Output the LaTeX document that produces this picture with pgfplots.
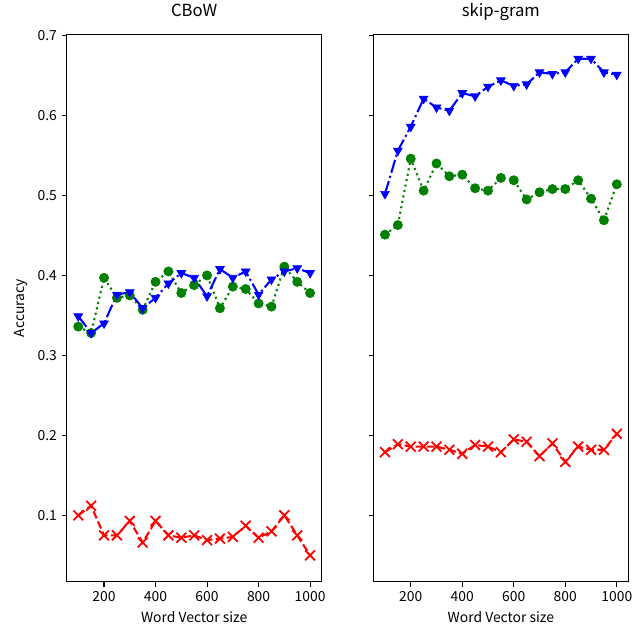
\documentclass[border=0pt]{standalone}
\usepackage{fontspec}
\setmainfont{Noto Sans CJK SC}
\usepackage{pgfplots}
\pgfplotsset{compat=1.18}
\definecolor{mplgreen}{RGB}{0,128,0}

\pgfplotsset{
  acc/.style={
    scale only axis, width=183.6pt, height=393.8pt,
    xmin=55, xmax=1045, ymin=0.017, ymax=0.701,
    xtick={200,400,600,800,1000},
    ytick={0.1,0.2,0.3,0.4,0.5,0.6,0.7},
    tick pos=left, tick align=outside, major tick length=3.5pt,
    axis line style={line width=0.8pt},
    every tick/.append style={black, line width=0.8pt},
    tick label style={font=\fontsize{10}{12}\selectfont},
    label style={font=\fontsize{10}{12}\selectfont},
    title style={font=\fontsize{12}{14}\selectfont, anchor=base, at={(0.5,1)}, yshift=6.8pt},
    xlabel={Word Vector size},
    /pgf/number format/assume math mode=true,
    xticklabel style={/pgf/number format/1000 sep={}},
    yticklabel style={/pgf/number format/.cd, fixed, precision=1, fixed zerofill},
    scaled ticks=false,
  },
  redline/.style={red, line width=1.5pt, dash pattern=on 5.55pt off 2.4pt,
    mark=x, mark size=5pt, mark options={solid, line width=1.3pt}},
  greenline/.style={mplgreen, line width=1.5pt, dash pattern=on 1.5pt off 2.475pt,
    mark=*, mark size=3.3pt, mark options={solid, line width=0.5pt}},
  blueline/.style={blue, line width=1.5pt, dash pattern=on 9.6pt off 2.4pt on 1.5pt off 2.4pt,
    mark=triangle*, mark size=3.6pt, mark options={solid, rotate=180, line width=0.5pt}},
}

\begin{document}
\begin{tikzpicture}
\path[use as bounding box] (-48pt,-32.6pt) rectangle (407.7pt,418.8pt);

\begin{axis}[acc, title={CBoW}, ylabel={Accuracy}]
\addplot[redline] coordinates {
 (100,0.100) (150,0.112) (200,0.075) (250,0.075) (300,0.093) (350,0.066)
 (400,0.093) (450,0.075) (500,0.072) (550,0.075) (600,0.069) (650,0.071)
 (700,0.073) (750,0.087) (800,0.072) (850,0.080) (900,0.100) (950,0.075)
 (1000,0.050)};
\addplot[greenline] coordinates {
 (100,0.336) (150,0.328) (200,0.397) (250,0.372) (300,0.375) (350,0.357)
 (400,0.392) (450,0.405) (500,0.378) (550,0.388) (600,0.400) (650,0.359)
 (700,0.386) (750,0.383) (800,0.365) (850,0.361) (900,0.411) (950,0.392)
 (1000,0.378)};
\addplot[blueline] coordinates {
 (100,0.349) (150,0.328) (200,0.340) (250,0.376) (300,0.379) (350,0.359)
 (400,0.372) (450,0.390) (500,0.403) (550,0.397) (600,0.374) (650,0.408)
 (700,0.397) (750,0.405) (800,0.376) (850,0.395) (900,0.405) (950,0.409)
 (1000,0.403)};
\end{axis}

\begin{axis}[acc, at={(220.8pt,0pt)}, title={skip-gram}, yticklabels={}]
\addplot[redline] coordinates {
 (100,0.179) (150,0.189) (200,0.186) (250,0.186) (300,0.186) (350,0.182)
 (400,0.177) (450,0.188) (500,0.186) (550,0.179) (600,0.195) (650,0.192)
 (700,0.174) (750,0.190) (800,0.167) (850,0.186) (900,0.182) (950,0.182)
 (1000,0.202)};
\addplot[greenline] coordinates {
 (100,0.451) (150,0.463) (200,0.546) (250,0.506) (300,0.540) (350,0.524)
 (400,0.526) (450,0.509) (500,0.506) (550,0.522) (600,0.519) (650,0.495)
 (700,0.504) (750,0.508) (800,0.508) (850,0.519) (900,0.496) (950,0.469)
 (1000,0.514)};
\addplot[blueline] coordinates {
 (100,0.502) (150,0.556) (200,0.586) (250,0.621) (300,0.610) (350,0.606)
 (400,0.628) (450,0.624) (500,0.636) (550,0.644) (600,0.637) (650,0.639)
 (700,0.654) (750,0.652) (800,0.654) (850,0.671) (900,0.671) (950,0.654)
 (1000,0.651)};
\end{axis}
\end{tikzpicture}
\end{document}
